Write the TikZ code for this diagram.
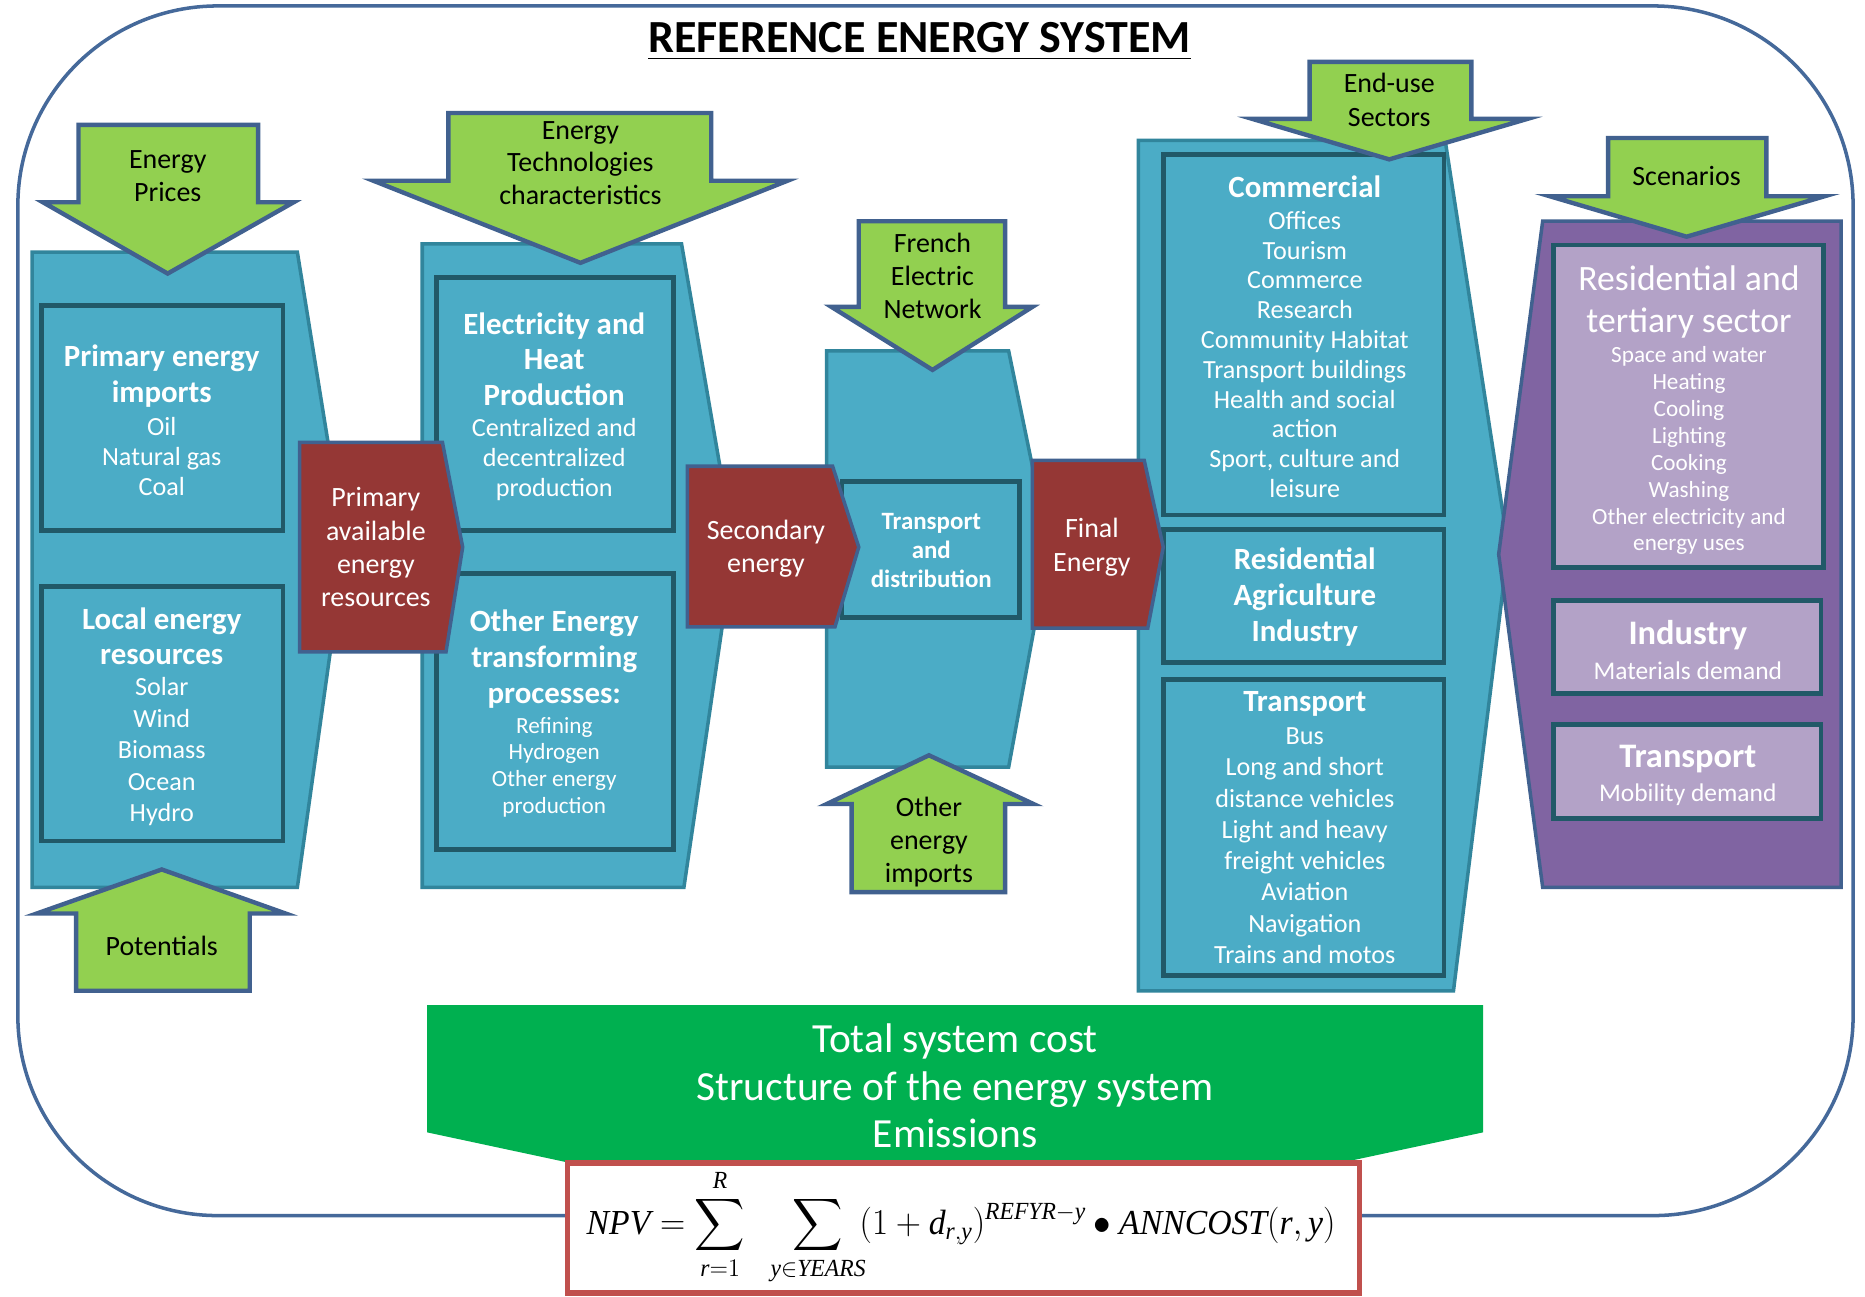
\documentclass[tikz,border=0pt]{standalone}
\usepackage{amsmath}
\usepackage{exscale}
\usepackage{fontspec}
\setmainfont{Carlito}
\newfontfamily\timesfont{Liberation Serif}
\newcommand{\timesit}[1]{\text{\timesfont\itshape #1}}
\usetikzlibrary{positioning}
\definecolor{panelblue}{HTML}{4BACC6}
\definecolor{panelline}{HTML}{31859C}
\definecolor{boxline}{HTML}{215968}
\definecolor{arrowgreen}{HTML}{92D050}
\definecolor{arrowline}{HTML}{41618F}
\definecolor{redfill}{HTML}{953735}
\definecolor{purplefill}{HTML}{8064A2}
\definecolor{lilac}{HTML}{B3A2C7}
\definecolor{framecol}{HTML}{45699A}
\definecolor{costgreen}{HTML}{00B050}
\definecolor{formulared}{HTML}{C0504D}

\begin{document}
\begin{tikzpicture}[x=0.0238cm,y=-0.0238cm,
  every node/.style={align=center,inner sep=0pt},
  panel/.style={fill=panelblue,draw=panelline,line width=2pt},
  inbox/.style={fill=panelblue,draw=boxline,line width=2.7pt},
  lilacbox/.style={fill=lilac,draw=boxline,line width=2.7pt},
  greenarrow/.style={fill=arrowgreen,draw=arrowline,line width=2.5pt},
  redarrow/.style={fill=redfill,draw=arrowline,line width=2pt},
  arrowtxt/.style={font=\fontsize{15.9}{18.9}\selectfont},
  headtxt/.style={text=white,font=\bfseries\fontsize{17.6}{20.3}\selectfont},
  itemtxt/.style={text=white,font=\fontsize{14.9}{17.1}\selectfont},
  smalltxt/.style={text=white,font=\fontsize{13.2}{15.3}\selectfont},
  redtxt/.style={text=white,font=\fontsize{15.9}{18.9}\selectfont}]
\useasboundingbox (0,0) rectangle (1568,1090);

% outer frame and title
\draw[framecol,line width=2pt,rounded corners=4cm,fill=white] (15,5) rectangle (1558,1022);
\node[font=\bfseries\fontsize{26.2}{30}\selectfont] (title) at (773,35) {\underline{REFERENCE ENERGY SYSTEM}};

% panels
\draw[panel] (27,212) -- (250,212) -- (290,460) -- (250,746) -- (27,746) -- cycle;
\draw[panel] (355,205) -- (573,205) -- (617,460) -- (575,746) -- (355,746) -- cycle;
\draw[panel] (695,295) -- (848,295) -- (882,460) -- (848,645) -- (695,645) -- cycle;
\draw[panel] (957,118) -- (1215,118) -- (1268,460) -- (1222,833) -- (957,833) -- cycle;
\draw[fill=purplefill,draw=arrowline,line width=2pt] (1297,186) -- (1548,186) -- (1548,746) -- (1297,746) -- (1260,466) -- cycle;

% column 1
\draw[inbox] (35,257) rectangle (238,446);
\node[headtxt] (impH) at (136,316) {Primary energy\\imports};
\node[itemtxt] (impL) at (136,384) {Oil\\Natural gas\\Coal};
\draw[inbox] (35,493) rectangle (238,707);
\node[headtxt] (locH) at (136,535) {Local energy\\resources};
\node[itemtxt,font=\fontsize{14.9}{17.9}\selectfont] (locL) at (136,632) {Solar\\Wind\\Biomass\\Ocean\\Hydro};

% column 2
\draw[inbox] (367,233) rectangle (566,446);
\node[headtxt] (elecH) at (466,302) {Electricity and\\Heat\\Production};
\node[itemtxt] (elecL) at (466,386) {Centralized and\\decentralized\\production};
\draw[inbox] (367,482) rectangle (566,714);
\node[headtxt] (othH) at (466,554) {Other Energy\\transforming\\processes:};
\node[smalltxt] (othL) at (466,645) {Refining\\Hydrogen\\Other energy\\production};

% column 3
\draw[inbox] (708,405) rectangle (857,519);
\node[text=white,font=\bfseries\fontsize{14.2}{16.5}\selectfont] (tnd) at (783,463) {Transport\\and\\distribution};

% column 4
\draw[inbox] (978,130) rectangle (1214,433);
\node[headtxt] (comH) at (1097,157) {Commercial};
\node[itemtxt,font=\fontsize{14.9}{16.95}\selectfont] (comL) at (1097,298) {Offices\\Tourism\\Commerce\\Research\\Community Habitat\\Transport buildings\\Health and social\\action\\Sport, culture and\\leisure};
\draw[inbox] (978,445) rectangle (1214,557);
\node[headtxt] (rai) at (1097,502) {Residential\\Agriculture\\Industry};
\draw[inbox] (978,571) rectangle (1214,820);
\node[headtxt] (trnH) at (1097,592) {Transport};
\node[itemtxt,font=\fontsize{14.9}{17.8}\selectfont] (trnL) at (1097,711) {Bus\\Long and short\\distance vehicles\\Light and heavy\\freight vehicles\\Aviation\\Navigation\\Trains and motos};

% column 5
\draw[lilacbox] (1306,206) rectangle (1533,477);
\node[text=white,font=\fontsize{20.3}{23.6}\selectfont] (rtsH) at (1420,254) {Residential and\\tertiary sector};
\node[smalltxt] (rtsL) at (1420,379) {Space and water\\Heating\\Cooling\\Lighting\\Cooking\\Washing\\Other electricity and\\energy uses};
\draw[lilacbox] (1306,505) rectangle (1531,583);
\node[text=white,font=\bfseries\fontsize{19.6}{22}\selectfont] (indH) at (1419,534) {Industry};
\node[text=white,font=\fontsize{14.5}{17}\selectfont] (indL) at (1419,564) {Materials demand};
\draw[lilacbox] (1306,609) rectangle (1531,688);
\node[text=white,font=\bfseries\fontsize{19.6}{22}\selectfont] (mobH) at (1419,638) {Transport};
\node[text=white,font=\fontsize{14.5}{17}\selectfont] (mobL) at (1419,668) {Mobility demand};

% energy levels
\draw[redarrow] (252,372) -- (372,372) -- (389,460) -- (375,548) -- (252,548) -- cycle;
\node[redtxt] (primary) at (316,460) {Primary\\available\\energy\\resources};
\draw[redarrow] (578,392) -- (700,392) -- (722,460) -- (702,527) -- (578,527) -- cycle;
\node[redtxt] (secondary) at (644,461) {Secondary\\energy};
\draw[redarrow] (868,387) -- (962,387) -- (978,460) -- (965,528) -- (868,528) -- cycle;
\node[redtxt] (final) at (918,460) {Final\\Energy};

% inputs
\draw[greenarrow] (66,105) -- (217,105) -- (217,170) -- (247,170) -- (141,230) -- (36,170) -- (66,170) -- cycle;
\node[arrowtxt] (prices) at (141,148) {Energy\\Prices};
\draw[greenarrow] (64,833) -- (210,833) -- (210,768) -- (240,768) -- (136,731) -- (31,768) -- (64,768) -- cycle;
\node[arrowtxt] (potentials) at (136,795) {Potentials};
\draw[greenarrow] (377,95) -- (598,95) -- (598,152) -- (662,152) -- (488,221) -- (314,152) -- (377,152) -- cycle;
\node[arrowtxt,font=\fontsize{15.9}{18.6}\selectfont] (techno) at (488,137) {Energy\\Technologies\\characteristics};
\draw[greenarrow] (722,186) -- (845,186) -- (845,258) -- (868,258) -- (784,311) -- (699,258) -- (722,258) -- cycle;
\node[arrowtxt] (network) at (784,232) {French\\Electric\\Network};
\draw[greenarrow] (716,750) -- (845,750) -- (845,676) -- (869,676) -- (781,635) -- (695,676) -- (716,676) -- cycle;
\node[arrowtxt] (imports) at (781,708) {Other\\energy\\imports};
\draw[greenarrow] (1101,52) -- (1237,52) -- (1237,100) -- (1284,100) -- (1168,134) -- (1053,100) -- (1101,100) -- cycle;
\node[arrowtxt] (sectors) at (1168,84) {End-use\\Sectors};
\draw[greenarrow] (1352,116) -- (1485,116) -- (1485,165) -- (1534,165) -- (1418,199) -- (1303,165) -- (1352,165) -- cycle;
\node[arrowtxt] (scenarios) at (1418,148) {Scenarios};

% outputs
\draw[fill=costgreen,draw=none] (359,845) -- (1247,845) -- (1247,952) -- (803,1047) -- (359,952) -- cycle;
\node[text=white,font=\fontsize{23.6}{27}\selectfont] (outputs) at (803,913) {Total system cost\\Structure of the energy system\\Emissions};
\draw[fill=white,draw=formulared,line width=3.2pt] (477,978) rectangle (1143,1087);
\node[font=\fontsize{20}{24}\selectfont] (npv) at (808,1032) {\scalebox{0.96}[1]{$\displaystyle \timesit{NPV}=\sum_{\timesit{r}=1}^{\timesit{R}}\;\;\sum_{\timesit{y}\in\timesit{YEARS}}\!(1+\timesit{d}_{\timesit{r},\timesit{y}})^{\timesit{REFYR}-\timesit{y}}\bullet\timesit{ANNCOST}(\timesit{r},\timesit{y})$}};
\end{tikzpicture}
\end{document}
